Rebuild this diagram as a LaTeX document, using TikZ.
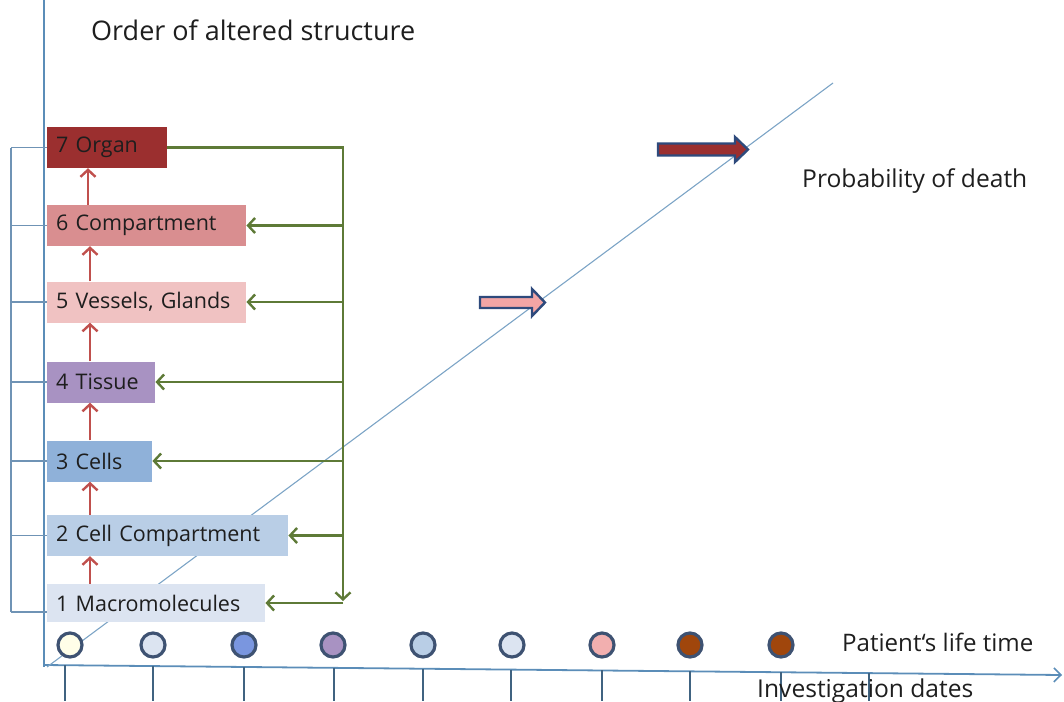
\documentclass[tikz,border=0pt]{standalone}
\usepackage{fontspec}
\setmainfont{Open Sans}
\usetikzlibrary{arrows.meta,calc}
\definecolor{axisblue}{HTML}{5B8DB8}
\definecolor{brackblue}{HTML}{6F93B5}
\definecolor{grn}{HTML}{5E7A37}
\definecolor{redarr}{HTML}{C0504D}
\definecolor{cOrgan}{HTML}{9B2F2F}
\definecolor{cComp}{HTML}{D98E90}
\definecolor{cVess}{HTML}{F0C2C2}
\definecolor{cTiss}{HTML}{A892C2}
\definecolor{cCell}{HTML}{8FB1D9}
\definecolor{cCComp}{HTML}{B9CEE6}
\definecolor{cMacro}{HTML}{DCE4F1}
\definecolor{ring}{HTML}{3E5272}
\definecolor{brown}{HTML}{A0460C}
\definecolor{blkborder}{HTML}{2E4A7C}
\definecolor{txt}{HTML}{1E1E1E}
\tikzset{
  lvl/.style={anchor=west, minimum height=41pt, inner xsep=9pt, inner ysep=0pt,
    align=left, font=\fontsize{21.5}{24}\selectfont, text=txt},
  dot/.style={circle, draw=ring, line width=3.2pt, minimum size=24pt, inner sep=0pt},
  garrow/.style={draw=grn, line width=2.7pt, -{Straight Barb[length=7pt,width=15pt,line width=2.4pt]}},
  rarrow/.style={draw=redarr, line width=2.7pt, -{Straight Barb[length=7pt,width=15pt,line width=2.4pt]}},
  brack/.style={draw=brackblue, line width=1.3pt},
  tickline/.style={draw=axisblue!70!black, line width=1.1pt},
  lbl/.style={font=\fontsize{24.6}{28}\selectfont, text=txt, inner sep=0pt}
}
\begin{document}
\begin{tikzpicture}[x=1pt,y=-1pt]
\useasboundingbox (0,0) rectangle (1064,701);
% axes
\coordinate (yaxtop) at (44,0);
\coordinate (yaxbot) at (44,667);
\coordinate (xaxl) at (44,665);
\coordinate (xaxr) at (1062,675);
\draw[draw=axisblue, line width=1.3pt] (yaxtop) -- (yaxbot);
\draw[draw=axisblue, line width=1.8pt, -{Straight Barb[length=7pt,width=14pt,line width=1.6pt]}] (xaxl) -- (xaxr);
% diagonal
\coordinate (dgA) at (47,667);
\coordinate (dgB) at (833,83);
\draw[draw=axisblue!80, line width=1.1pt] (dgA) -- (dgB);
% ticks
\foreach \x [count=\i] in {65,153,244,334,423,511,602,690,781,869}{
  \pgfmathsetmacro{\yt}{665+(\x-44)*10/1018}
  \coordinate (tk\i) at (\x,\yt);
  \coordinate (tkb\i) at (\x,701);
  \draw[tickline] (tk\i) -- (tkb\i);
}
% level boxes
\node[lvl, fill=cOrgan, text width=102pt] (b7) at (47,147.5) {7 Organ};
\node[lvl, fill=cComp, text width=181pt] (b6) at (47,225.5) {6 Compartment};
\node[lvl, fill=cVess, text width=181pt] (b5) at (47,302) {5 Vessels, Glands};
\node[lvl, fill=cTiss, text width=90pt] (b4) at (47,382) {4 Tissue};
\node[lvl, fill=cCell, text width=87pt] (b3) at (47,461) {3 Cells};
\node[lvl, fill=cCComp, text width=223pt] (b2) at (47,535.5) {2 Cell Compartment};
\node[lvl, fill=cMacro, text width=200pt, minimum height=38pt] (b1) at (47,603) {1 Macromolecules};
% red upward arrows
\draw[rarrow] ($(b1.north west)+(43,0)$) -- ($(b2.south west)+(43,0)$);
\draw[rarrow] ($(b2.north west)+(43,0)$) -- ($(b3.south west)+(43,0)$);
\draw[rarrow] ($(b3.north west)+(43,0)$) -- ($(b4.south west)+(43,0)$);
\draw[rarrow] ($(b4.north west)+(43,0)$) -- ($(b5.south west)+(43,0)$);
\draw[rarrow] ($(b5.north west)+(43,0)$) -- ($(b6.south west)+(43,0)$);
\draw[rarrow] ($(b6.north west)+(41,0)$) -- ($(b7.south west)+(41,0)$);
% green feedback
\coordinate (gtop) at (343,147.5);
\coordinate (gbot) at (343,601);
\coordinate (gb1) at (343,603);
\draw[garrow] (b7.east) -- (gtop) -- (gbot);
\foreach \b in {b6,b5,b4,b3,b2}{
  \draw[garrow] (gtop |- \b.east) -- (\b.east);
}
\draw[garrow] (gb1) -- (b1.east);
% left bracket
\coordinate (lt) at (11,147.5);
\coordinate (lb) at (11,612);
\draw[brack] (lt) -- (lb);
\foreach \b in {b7,b6,b5,b4,b3,b2}{
  \draw[brack] (lt |- \b.west) -- (\b.west);
}
\coordinate (lbe) at (47,612);
\draw[brack] (lb) -- (lbe);
% life-time dots
\node[dot, fill=white!85!yellow!60] (c1) at (70,645) {};
\node[dot, fill=cMacro] (c2) at (153,645) {};
\node[dot, fill=cCell!85!blue] (c3) at (244,645) {};
\node[dot, fill=cTiss] (c4) at (333,645) {};
\node[dot, fill=cCComp] (c5) at (423,645) {};
\node[dot, fill=cMacro] (c6) at (512,645) {};
\node[dot, fill=cVess!90!red] (c7) at (602,645) {};
\node[dot, fill=brown] (c8) at (690,645) {};
\node[dot, fill=brown] (c9) at (781,645) {};
% block arrows
\draw[fill=cVess!85!red, draw=blkborder, line width=2.4pt, line join=miter]
  (480,297) -- (532,297) -- (532,289) -- (545,302.5) -- (532,316) -- (532,308) -- (480,308) -- cycle;
\draw[fill=cOrgan, draw=blkborder, line width=2.4pt, line join=miter]
  (658,143.5) -- (735,143.5) -- (735,137) -- (748,149.5) -- (735,162) -- (735,155.5) -- (658,155.5) -- cycle;
% texts
\node[lbl, anchor=base west, font=\fontsize{27}{30}\selectfont] (title) at (91,41) {Order of altered structure};
\node[lbl, anchor=base west] (prob) at (802,187) {Probability of death};
\node[lbl, anchor=base west, font=\fontsize{24.1}{28}\selectfont] (life) at (842,651) {Patient‘s life time};
\node[lbl, anchor=base west] (inv) at (757,697) {Investigation dates};
\end{tikzpicture}
\end{document}
